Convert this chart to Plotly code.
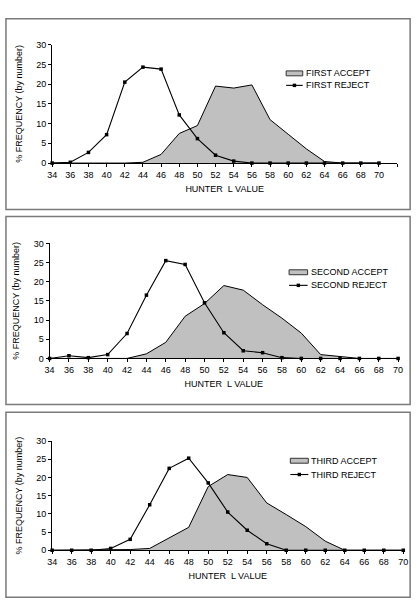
import plotly.graph_objects as go

# ---------------- data ----------------
hunter_l = [34, 36, 38, 40, 42, 44, 46, 48, 50, 52, 54, 56, 58, 60, 62, 64, 66, 68, 70]

first_accept = [0, 0, 0, 0, 0, 0.2, 2.2, 7.5, 9.5, 19.5, 19.0, 19.8, 11.0, 7.3, 3.6, 0.4, 0, 0, 0]
first_reject = [0, 0.2, 2.7, 7.2, 20.5, 24.3, 23.8, 12.2, 6.2, 2.0, 0.5, 0, 0, 0, 0, 0, 0, 0, 0]

second_accept = [0, 0, 0, 0, 0, 1.2, 4.2, 11.0, 14.3, 19.0, 17.8, 14.0, 10.5, 6.6, 1.0, 0.5, 0, 0, 0]
second_reject = [0, 0.7, 0.2, 1.0, 6.5, 16.5, 25.5, 24.5, 14.5, 6.7, 2.0, 1.5, 0.2, 0, 0, 0, 0, 0, 0]

third_accept = [0, 0, 0, 0, 0.2, 0.5, 3.5, 6.3, 17.5, 20.8, 20.0, 13.0, 9.8, 6.5, 2.5, 0, 0, 0, 0]
third_reject = [0, 0, 0, 0.5, 3.0, 12.5, 22.5, 25.3, 18.5, 10.5, 5.5, 1.8, 0, 0, 0, 0, 0, 0, 0]

series_names = [("FIRST ACCEPT", "FIRST REJECT"),
                ("SECOND ACCEPT", "SECOND REJECT"),
                ("THIRD ACCEPT", "THIRD REJECT")]
y_ticks = [0, 5, 10, 15, 20, 25, 30]
x_title = "HUNTER\u00a0 L VALUE"
y_title = "% FREQUENCY (by number)"

# ---------------- layout helpers ----------------
W, H = 420, 613
FONT = "Liberation Sans, Arial, sans-serif"


def X(px):
    return px / W


def Y(py):
    return 1 - py / H


panels = [
    dict(box=(1, 14, 415, 208), xpx=(48.3, 401.7), xr=[34, 72], ypx=(40.3, 160.7),
         leg=(288, 305, 69.5, 81.7, 306), acc=first_accept, rej=first_reject),
    dict(box=(1, 215, 415, 406), xpx=(45.7, 402.7), xr=[34, 70], ypx=(242.3, 359.3),
         leg=(291, 310, 271.7, 285, 311), acc=second_accept, rej=second_reject),
    dict(box=(1, 414, 415, 602), xpx=(48.3, 408), xr=[34, 70], ypx=(443.3, 554.3),
         leg=(292.3, 310.7, 463.3, 477.3, 311.5), acc=third_accept, rej=third_reject),
]

fig = go.Figure()
shapes = []
annotations = []
layout = {}

for i, p in enumerate(panels):
    n = "" if i == 0 else str(i + 1)
    xa, ya = "x" + n, "y" + n
    acc_name, rej_name = series_names[i]

    fig.add_trace(go.Scatter(
        x=hunter_l, y=p["acc"], xaxis=xa, yaxis=ya, mode="lines",
        fill="tozeroy", fillcolor="#C0C0C0", line=dict(color="black", width=1),
        name=acc_name, showlegend=False, cliponaxis=False))
    fig.add_trace(go.Scatter(
        x=hunter_l, y=p["rej"], xaxis=xa, yaxis=ya, mode="lines+markers",
        line=dict(color="black", width=1.1),
        marker=dict(symbol="square", size=3.5, color="black"),
        name=rej_name, showlegend=False, cliponaxis=False))

    xt = list(range(p["xr"][0], p["xr"][1] + 1, 2))
    xtext = [str(v) if v <= 70 else "" for v in xt]
    layout["xaxis" + n] = dict(
        domain=[X(p["xpx"][0]), X(p["xpx"][1])], range=p["xr"], anchor=ya,
        tickvals=xt, ticktext=xtext, ticks="outside", ticklen=3, tickcolor="black",
        showline=True, linecolor="black", linewidth=1, showgrid=False, zeroline=False,
        tickfont=dict(size=9, color="black", family=FONT),
        title=dict(text=x_title, font=dict(size=9, color="black", family=FONT), standoff=6),
        fixedrange=True)
    layout["yaxis" + n] = dict(
        domain=[Y(p["ypx"][1]), Y(p["ypx"][0])], range=[0, 30], anchor=xa,
        tickvals=y_ticks, ticks="outside", ticklen=3, tickcolor="black",
        showline=True, linecolor="black", linewidth=1, showgrid=False, zeroline=False,
        tickfont=dict(size=9, color="black", family=FONT),
        title=dict(text=y_title, font=dict(size=9, color="black", family=FONT), standoff=12),
        fixedrange=True)

    # panel border
    bx0, by0, bx1, by1 = p["box"]
    shapes.append(dict(type="rect", xref="paper", yref="paper",
                       x0=X(bx0), x1=X(bx1), y0=Y(by1), y1=Y(by0),
                       line=dict(color="#7a7a7a", width=1.5), fillcolor="rgba(0,0,0,0)"))

    # legend
    lx0, lx1, lyA, lyR, ltx = p["leg"]
    shapes.append(dict(type="rect", xref="paper", yref="paper",
                       x0=X(lx0), x1=X(lx1), y0=Y(lyA + 2.5), y1=Y(lyA - 2.5),
                       line=dict(color="#333333", width=1), fillcolor="#C0C0C0"))
    shapes.append(dict(type="line", xref="paper", yref="paper",
                       x0=X(lx0), x1=X(lx1), y0=Y(lyR), y1=Y(lyR),
                       line=dict(color="black", width=1.1)))
    mx = (lx0 + lx1) / 2
    shapes.append(dict(type="rect", xref="paper", yref="paper",
                       x0=X(mx - 1.75), x1=X(mx + 1.75), y0=Y(lyR + 1.75), y1=Y(lyR - 1.75),
                       line=dict(width=0), fillcolor="black"))
    for txt, yy in ((acc_name, lyA), (rej_name, lyR)):
        annotations.append(dict(text=txt, xref="paper", yref="paper", x=X(ltx), y=Y(yy),
                                xanchor="left", yanchor="middle", showarrow=False,
                                font=dict(size=9, color="black", family=FONT)))

fig.update_layout(
    width=W, height=H, margin=dict(l=0, r=0, t=0, b=0),
    paper_bgcolor="white", plot_bgcolor="white",
    font=dict(family=FONT, size=9, color="black"),
    showlegend=False, shapes=shapes, annotations=annotations, **layout)

fig.write_html("out.html", config=dict(displayModeBar=False))
